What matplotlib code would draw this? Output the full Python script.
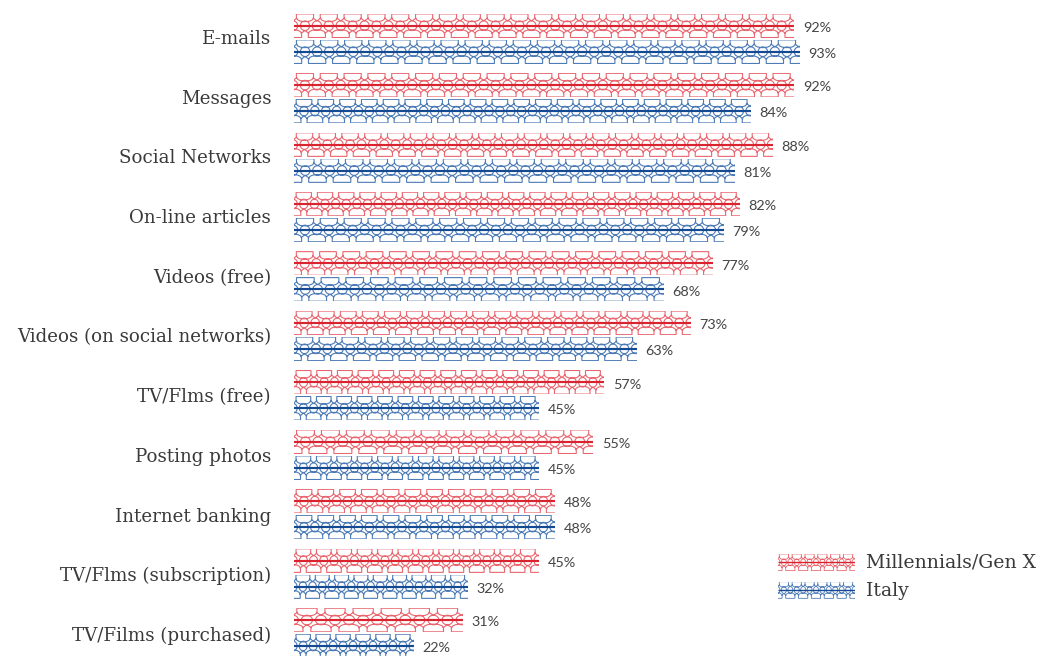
import matplotlib

matplotlib.use("Agg")
import matplotlib.pyplot as plt
import numpy as np
from matplotlib.patches import PathPatch
from matplotlib.path import Path

categories = [
    "E-mails",
    "Messages",
    "Social Networks",
    "On-line articles",
    "Videos (free)",
    "Videos (on social networks)",
    "TV/Flms (free)",
    "Posting photos",
    "Internet banking",
    "TV/Flms (subscription)",
    "TV/Films (purchased)",
]
millennials = [92, 92, 88, 82, 77, 73, 57, 55, 48, 45, 31]
italy = [93, 84, 81, 79, 68, 63, 45, 45, 48, 32, 22]

# how many pattern repeats each bar is stretched over
millennials_tiles = [21, 21, 21, 21, 18, 18, 15, 12, 12, 12, 6]
italy_tiles = [21, 21, 18, 18, 15, 15, 12, 12, 12, 9, 6]

RED = "#e9666f"
RED_DARK = "#d9232e"
BLUE = "#4c7bb6"
BLUE_DARK = "#134a92"
LABEL_FONT = "DejaVu Serif"
VALUE_FONT = "Lato"

W, H = 1042, 656
BAR_H = 0.405
OFFSET = 0.2185


def tile_segments(c):
    """Cup above the axis at c, dome below at c + 0.5, circles on the axis (unit tile)."""
    verts, codes = [], []
    hw = 0.36
    for cx, sign in ((c, 1), (c + 0.5, -1)):
        verts += [
            (cx - hw, sign * 0.72),
            (cx - hw, sign * 0.98),
            (cx + hw, sign * 0.98),
            (cx + hw, sign * 0.72),
            (cx + hw, sign * 0.46),
            (cx + hw * 0.6, sign * 0.34),
            (cx, sign * 0.34),
            (cx - hw * 0.6, sign * 0.34),
            (cx - hw, sign * 0.46),
            (cx - hw, sign * 0.72),
        ]
        codes += [Path.MOVETO, Path.LINETO, Path.LINETO, Path.LINETO] + [Path.CURVE4] * 6
        # flared strokes rising from the circle in the gap towards the cup shoulders
        gap = cx + 0.5
        verts += [
            (gap - 0.17, sign * 0.66),
            (gap - 0.11, sign * 0.56),
            (gap - 0.06, sign * 0.46),
            (gap, sign * 0.42),
            (gap + 0.06, sign * 0.46),
            (gap + 0.11, sign * 0.56),
            (gap + 0.17, sign * 0.66),
        ]
        codes += [Path.MOVETO] + [Path.CURVE4] * 6

    theta = np.linspace(0, 2 * np.pi, 25)
    for cx in (c, c + 0.5):
        verts += list(zip(cx + 0.195 * np.cos(theta), 0.40 * np.sin(theta)))
        codes += [Path.MOVETO] + [Path.LINETO] * 24
    return np.array(verts), codes


def draw_bar(ax, start, y, value, height, tiles, light, dark, lw=0.8, line_lw=1.55):
    rect = ax.barh(y, value, height, left=start, color="none", edgecolor="none")[0]
    tile_w = value / tiles
    verts, codes = [], []
    for k in range(-1, tiles + 1):
        v, c = tile_segments(0.46)
        v = v.copy()
        v[:, 0] = start + (k + v[:, 0]) * tile_w
        v[:, 1] = y - v[:, 1] * height / 2
        verts.append(v)
        codes.extend(c)
    patch = PathPatch(
        Path(np.vstack(verts), codes), facecolor="none", edgecolor=light, lw=lw, zorder=2
    )
    ax.add_patch(patch)
    patch.set_clip_path(rect)
    ax.hlines(y, start, start + value, color=dark, lw=line_lw, zorder=3)


fig = plt.figure(figsize=(W / 100, H / 100), dpi=100)
ax = fig.add_axes([294 / W, 0, 544 / W, 1])
ax.set_xlim(0, 100)
ax.set_ylim((656 - 38.7) / 59.43, -38.7 / 59.43)
ax.axis("off")
rows = np.arange(len(categories))

for i in rows:
    for value, tiles, sign, light, dark in (
        (millennials[i], millennials_tiles[i], -1, RED, RED_DARK),
        (italy[i], italy_tiles[i], 1, BLUE, BLUE_DARK),
    ):
        y = i + sign * OFFSET
        draw_bar(ax, 0, y, value, BAR_H, tiles, light, dark)
        ax.annotate(
            f"{value}%",
            (value, y),
            xytext=(6.2, -1.6),
            textcoords="offset points",
            va="center",
            ha="left",
            family=VALUE_FONT,
            fontsize=10.4,
            color="#444444",
            annotation_clip=False,
        )
    ax.annotate(
        categories[i],
        (0, i),
        xytext=(-16.5, -i * 0.2 - 0.2),
        textcoords="offset points",
        va="center",
        ha="right",
        family=LABEL_FONT,
        fontsize=13.15,
        color="#3a3a3a",
        annotation_clip=False,
    )

# legend swatches get their own small axes, scaled 0-1 across
leg = fig.add_axes([778 / W, 1 - 600 / H, 77 / W, 47 / H])
leg.set_xlim(0, 1)
leg.set_ylim(47, 0)
leg.axis("off")
for y, light, dark, label in (
    (9.3, RED, RED_DARK, "Millennials/Gen X"),
    (37, BLUE, BLUE_DARK, "Italy"),
):
    draw_bar(leg, 0, y, 1, 17, 6, light, dark, lw=0.6, line_lw=1.0)
    leg.annotate(
        label,
        (1, y),
        xytext=(8, -0.5),
        textcoords="offset points",
        va="center",
        ha="left",
        family=LABEL_FONT,
        fontsize=13.6,
        color="#3a3a3a",
        annotation_clip=False,
    )

fig.savefig("out.png", dpi=100, facecolor="white")
